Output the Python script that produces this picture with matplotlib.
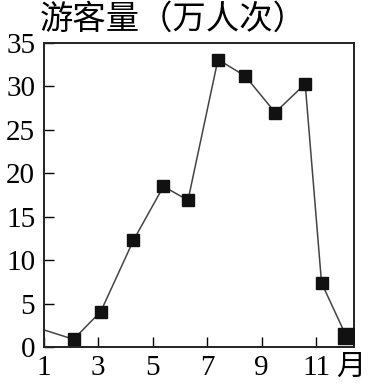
import matplotlib
matplotlib.use("Agg")
import matplotlib.pyplot as plt

# 月份位置和游客量（万人次）
months = [2.1, 3.1, 4.3, 5.4, 6.3, 7.4, 8.4, 9.5, 10.6, 11.2]
visitors = [0.9, 4.1, 12.3, 18.5, 16.9, 33.1, 31.2, 27.0, 30.3, 7.4]
start_x, start_y = 1.0, 2.0
end_x, end_y = 12.1, 1.3

xticks = [1, 3, 5, 7, 9, 11]
yticks = [0, 5, 10, 15, 20, 25, 30, 35]

num_font = "Liberation Serif"
cjk_font = ["Noto Sans CJK SC", "DejaVu Sans"]

fig = plt.figure(figsize=(3.69, 3.84), dpi=100)
ax = fig.add_axes([0.118, 0.096, 0.842, 0.792])

ax.plot([start_x] + months + [end_x], [start_y] + visitors + [end_y],
        color="#444444", lw=1.1, zorder=2)
ax.plot(months, visitors, ls="none", marker="s", ms=9, color="#111111", zorder=3)
ax.plot([end_x], [end_y], ls="none", marker="s", ms=12, color="#111111", zorder=3)

ax.set_xlim(1, 12.4)
ax.set_ylim(0, 35)
ax.set_xticks(xticks)
ax.set_yticks(yticks)
ax.tick_params(direction="in", length=7, width=1, top=False, right=False, pad=6)
for lab in ax.get_xticklabels() + ax.get_yticklabels():
    lab.set_fontfamily(num_font)
    lab.set_fontsize(21)
for s in ax.spines.values():
    s.set_linewidth(1.4)
    s.set_color("#222222")

fig.text(0.108, 0.905, "游客量（万人次）", family=cjk_font, fontsize=24,
         ha="left", va="bottom")
ax.text(12.28, -2.3, "月", family=cjk_font, fontsize=21, ha="center", va="center",
        clip_on=False)

fig.savefig("out.png", dpi=100)
